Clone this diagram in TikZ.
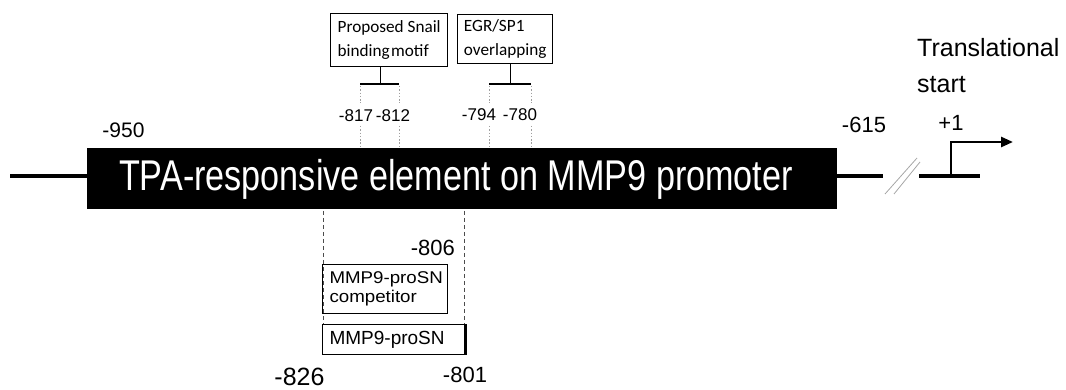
\documentclass[tikz,border=0pt]{standalone}
\usepackage{graphicx}
\usepackage{fontspec}
\setmainfont{Liberation Sans}
\newfontfamily\calibri{Carlito}
\usetikzlibrary{arrows.meta}
\begin{document}
\begin{tikzpicture}[x=1pt,y=-1pt,
  lbl/.style={inner sep=0, anchor=base, font=\fontsize{17}{17}\selectfont},
  biglbl/.style={inner sep=0, anchor=base, font=\fontsize{22}{22}\selectfont},
  motifbox/.style={draw, line width=1.4pt, inner sep=0, anchor=north west, align=left,
     font=\calibri\fontsize{17.2}{23.5}\selectfont},
  probebox/.style={draw, line width=1.1pt, inner ysep=0, inner xsep=7pt, anchor=north west, align=left},
  dna/.style={line width=3.2pt},
  stem/.style={line width=1pt},
  bracket/.style={line width=2.6pt},
  dotline/.style={gray!75, line width=0.9pt, dash pattern=on 1.5pt off 1.8pt},
  dashline/.style={black!70, line width=0.9pt, dash pattern=on 4pt off 3pt},
  slash/.style={gray!70, line width=0.8pt}]
\useasboundingbox (0,0) rectangle (1066,390);

% main element
\node[fill=black, inner sep=0, minimum width=750pt, minimum height=61pt, anchor=north west] (tre) at (87,148) {};
\node[anchor=base, text=white, inner sep=0] (title) at (456,191)
  {\fontsize{43}{43}\selectfont\scalebox{0.795}[1]{TPA-responsive element on MMP9 promoter}};

% DNA lines
\coordinate (dnaL) at (10,176);
\coordinate (dnaR) at (883,176);
\coordinate (dna2L) at (919,176);
\coordinate (dna2R) at (980,176);
\coordinate (tss) at (951,176);
\coordinate (tssTop) at (951,142);
\coordinate (tssTip) at (1013,142);
\draw[dna] (dnaL) -- (dnaL -| tre.west);
\draw[dna] (dnaR -| tre.east) -- (dnaR);
\draw[dna] (dna2L) -- (dna2R);
\draw[line width=2.6pt, -{Triangle[length=12pt,width=10pt]}] (tss) -- (tssTop) -- (tssTip);
\draw[slash] (885,194) -- (917,158);
\draw[slash] (894,194) -- (920,162);

% position labels
\node[biglbl, font=\fontsize{21}{21}\selectfont] (p950) at (123.5,138) {-950};
\node[biglbl] (p615) at (864,133) {-615};
\node[biglbl] (p1) at (951,131) {+1};
\node[inner sep=0, anchor=base west, font=\fontsize{25}{25}\selectfont] (tl) at (917,57) {Translational};
\node[inner sep=0, anchor=base west, font=\fontsize{25}{25}\selectfont] (st) at (917,93) {start};

% motif boxes
\node[motifbox, minimum width=117pt, minimum height=53pt] (snail) at (330,13)
  {Proposed Snail\\binding\hspace{0.08em}motif};
\node[motifbox, minimum width=95pt, minimum height=49pt] (egr) at (457,14)
  {EGR/SP1\\overlapping};

% brackets
\coordinate (sbL) at (360,84);
\coordinate (sbR) at (399,84);
\coordinate (sbM) at (380,84);
\coordinate (ebL) at (489,84);
\coordinate (ebR) at (531,84);
\coordinate (ebM) at (510,84);
\draw[stem] (snail.south -| sbM) -- (sbM);
\draw[stem] (egr.south -| ebM) -- (ebM);
\draw[bracket] (sbL) -- (sbR);
\draw[bracket] (ebL) -- (ebR);

\node[lbl] (p817) at (356,122) {-817};
\node[lbl] (p812) at (393,122) {-812};
\node[lbl] (p794) at (479,121) {-794};
\node[lbl] (p780) at (520,121) {-780};

\foreach \c in {sbL,sbR,ebL,ebR}{
  \draw[dotline] ([yshift=-2pt]\c) -- ([yshift=-19pt]\c);
  \draw[dotline] ([yshift=-42pt]\c) -- (\c |- tre.north);
}

% probes
\node[probebox, text width=111pt, minimum height=49pt,
  font=\fontsize{17}{19.5}\selectfont] (comp) at (322,264)
  {\scalebox{1.1}[1]{MMP9-proSN}\\\scalebox{1.1}[1]{competitor}};
\node[probebox, text width=128pt, minimum height=30pt,
  font=\fontsize{19}{20}\selectfont] (probe) at (322,324)
  {MMP9-proSN};
\draw[line width=3pt] (probe.north east) -- (probe.south east);

\coordinate (dL) at (323,211);
\coordinate (dR) at (464,211);
\draw[dashline] (dL) -- (dL |- probe.north);
\draw[dashline] (dR) -- (dR |- probe.north);

\node[biglbl, anchor=base east] (p806) at (455,255) {-806};
\node[biglbl, font=\fontsize{25}{25}\selectfont] (p826) at (299.5,385) {-826};
\node[biglbl] (p801) at (465,382) {-801};
\end{tikzpicture}
\end{document}
